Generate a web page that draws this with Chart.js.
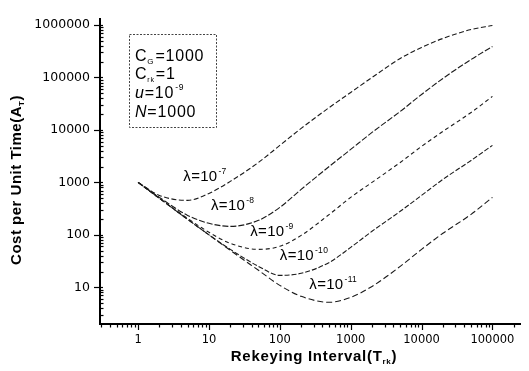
<!DOCTYPE html>
<html>
<head>
<meta charset="utf-8">
<script src="https://cdn.jsdelivr.net/npm/chart.js@4"></script>
<style>
  html, body { margin: 0; padding: 0; background: #fff; }
</style>
</head>
<body>
<canvas id="costChart" width="529" height="371"></canvas>
<script>
// rekeying interval T_rk (x) and cost per unit time A_T (y)
const intervals = [1, 2, 5, 10, 20, 50, 100, 200, 500, 1000, 2000, 5000, 10000, 20000, 50000, 100000];
const cost7  = [1000, 565, 454, 616, 1045, 2400, 5070, 10700, 26800, 51800, 100000, 230000, 373000, 553000, 820000, 977000];
const cost8  = [1000, 518, 235, 166, 145, 189, 334, 736, 2020, 4250, 8960, 22500, 47400, 95700, 220000, 389000];
const cost9  = [1000, 496, 206, 112, 68.9, 52.9, 60.4, 97.7, 246, 518, 1000, 2400, 4850, 9360, 21500, 43500];
const cost10 = [1000, 496, 197, 100, 52.9, 25.1, 16.9, 18.5, 29.9, 57.8, 117, 281, 565, 1140, 2620, 5070];
const cost11 = [1000, 496, 197, 100, 50.7, 21.1, 10.9, 6.74, 5.18, 6.46, 10.4, 25.1, 52.9, 107, 246, 518];
const lambdaExps = ['-7', '-8', '-9', '-10', '-11'];
const xTickLabels = [1, 10, 100, 1000, 10000, 100000];
const yTickLabels = [10, 100, 1000, 10000, 100000, 1000000];

const allCosts = [cost7, cost8, cost9, cost10, cost11];
const dashes = [[5, 2.5], [6, 2], [4, 3], [5, 2], [6, 3]];

const FONT = '"Liberation Sans", Arial, sans-serif';

function sig(v) {
  const e = Math.floor(Math.log10(v) + 1e-9);
  const k = v / Math.pow(10, e);
  const r = Math.round(k);
  return (Math.abs(k - r) < 1e-6 && r >= 1 && r <= 9) ? r : null;
}

// draw text made of pieces: {t, size, dy, italic}
function rich(ctx, parts, x, y, bold, spacing) {
  let cx = x;
  parts.forEach(p => {
    ctx.font = (p.italic ? 'italic ' : '') + (bold ? 'bold ' : '') + p.size + 'px ' + FONT;
    ctx.letterSpacing = spacing || '0px';
    ctx.fillText(p.t, cx, y + (p.dy || 0));
    cx += ctx.measureText(p.t).width + (p.gap || 0);
  });
  return cx - x;
}
function richWidth(ctx, parts, bold, spacing) {
  let w = 0;
  parts.forEach(p => {
    ctx.font = (p.italic ? 'italic ' : '') + (bold ? 'bold ' : '') + p.size + 'px ' + FONT;
    ctx.letterSpacing = spacing || '0px';
    w += ctx.measureText(p.t).width + (p.gap || 0);
  });
  return w;
}

const decor = {
  id: 'decor',
  afterDraw(chart) {
    const { ctx, chartArea: a, scales: { x, y } } = chart;
    ctx.save();
    ctx.strokeStyle = '#000';
    ctx.fillStyle = '#000';
    ctx.lineWidth = 1.2;

    // tick marks
    x.ticks.forEach(t => {
      const k = sig(t.value);
      if (k === null) return;
      const px = Math.round(x.getPixelForValue(t.value)) + 0.5;
      if (px < a.left || px > a.right) return;
      ctx.beginPath();
      ctx.moveTo(px, a.bottom);
      ctx.lineTo(px, a.bottom + (k === 1 ? 6 : 3.5));
      ctx.stroke();
    });
    y.ticks.forEach(t => {
      const k = sig(t.value);
      if (k === null) return;
      const py = Math.round(y.getPixelForValue(t.value)) + 0.5;
      if (py < a.top || py > a.bottom) return;
      ctx.beginPath();
      if (k === 1) { ctx.moveTo(a.left - 6, py); ctx.lineTo(a.left + 3, py); }
      else { ctx.moveTo(a.left, py); ctx.lineTo(a.left + 3.5, py); }
      ctx.stroke();
    });

    // curve labels
    const anchors = [[4.35, 1045], [10.7, 293], [38.3, 93.6], [100, 32.7], [261, 9.2]];
    ctx.textBaseline = 'alphabetic';
    anchors.forEach((p, i) => {
      const lx = x.getPixelForValue(p[0]);
      const ly = y.getPixelForValue(p[1]);
      rich(ctx, [
        { t: 'λ=10', size: 15, gap: 1 },
        { t: lambdaExps[i], size: 8.5, dy: -7 }
      ], lx, ly, false, '0.3px');
    });

    // parameter box
    ctx.save();
    ctx.lineWidth = 1;
    ctx.strokeStyle = '#444';
    ctx.setLineDash([2, 1.5]);
    ctx.strokeRect(129.5, 34.5, 87, 93);
    ctx.restore();
    const bx = 135;
    rich(ctx, [{ t: 'C', size: 16 }, { t: 'G', size: 8, dy: 3, gap: 1 }, { t: '=1000', size: 16 }], bx, 61, false, '0.8px');
    rich(ctx, [{ t: 'C', size: 16 }, { t: 'rk', size: 7, dy: 3, gap: 1 }, { t: '=1', size: 16 }], bx, 79, false, '0.8px');
    rich(ctx, [{ t: 'u', size: 16, italic: true }, { t: '=10', size: 16, gap: 1 }, { t: '-9', size: 8.5, dy: -8 }], bx, 98, false, '0.8px');
    rich(ctx, [{ t: 'N', size: 16, italic: true }, { t: '=1000', size: 16 }], bx, 117, false, '0.8px');

    // axis titles
    const xt = [{ t: 'Rekeying Interval(T', size: 15 }, { t: 'rk', size: 8, dy: 3 }, { t: ')', size: 15 }];
    const xw = richWidth(ctx, xt, true, '0.7px');
    rich(ctx, xt, (a.left + a.right) / 2 + 4 - xw / 2, 361, true, '0.7px');

    const yt = [{ t: 'Cost per Unit Time(A', size: 15 }, { t: 'T', size: 8, dy: 3 }, { t: ')', size: 15 }];
    const yw = richWidth(ctx, yt, true, '0.5px');
    ctx.translate(21, 180);
    ctx.rotate(-Math.PI / 2);
    rich(ctx, yt, -yw / 2, 0, true, '0.5px');

    ctx.restore();
  }
};

new Chart(document.getElementById('costChart'), {
  type: 'line',
  data: {
    datasets: allCosts.map((c, i) => ({
      label: 'λ=10' + lambdaExps[i],
      data: intervals.map((t, j) => ({ x: t, y: c[j] })),
      borderColor: '#1a1a1a',
      borderWidth: 1.1,
      borderDash: dashes[i],
      pointRadius: 0,
      fill: false,
      cubicInterpolationMode: 'monotone'
    }))
  },
  options: {
    responsive: false,
    animation: false,
    layout: { padding: { top: 19, right: 2, left: 0, bottom: 0 } },
    plugins: { legend: { display: false }, tooltip: { enabled: false } },
    scales: {
      x: {
        type: 'logarithmic',
        min: 0.29,
        max: 245000,
        afterFit: s => { s.height = 47; },
        grid: { display: true, drawOnChartArea: false, drawTicks: false },
        border: { display: true, color: '#000', width: 2 },
        ticks: {
          autoSkip: false,
          maxRotation: 0,
          padding: 9,
          color: '#000',
          font: { family: '"DejaVu Sans"', size: 11.5 },
          callback: v => xTickLabels.includes(Math.round(v)) && sig(v) === 1 ? String(Math.round(v)) : ''
        }
      },
      y: {
        type: 'logarithmic',
        min: 2,
        max: 1300000,
        afterFit: s => { s.width = 100; },
        grid: { display: true, drawOnChartArea: false, drawTicks: false },
        border: { display: true, color: '#000', width: 2 },
        ticks: {
          autoSkip: false,
          padding: 10,
          color: '#000',
          font: { family: '"DejaVu Sans"', size: 12.5 },
          callback: v => yTickLabels.includes(Math.round(v)) && sig(v) === 1 ? String(Math.round(v)) : ''
        }
      }
    }
  },
  plugins: [decor]
});
</script>
</body>
</html>
